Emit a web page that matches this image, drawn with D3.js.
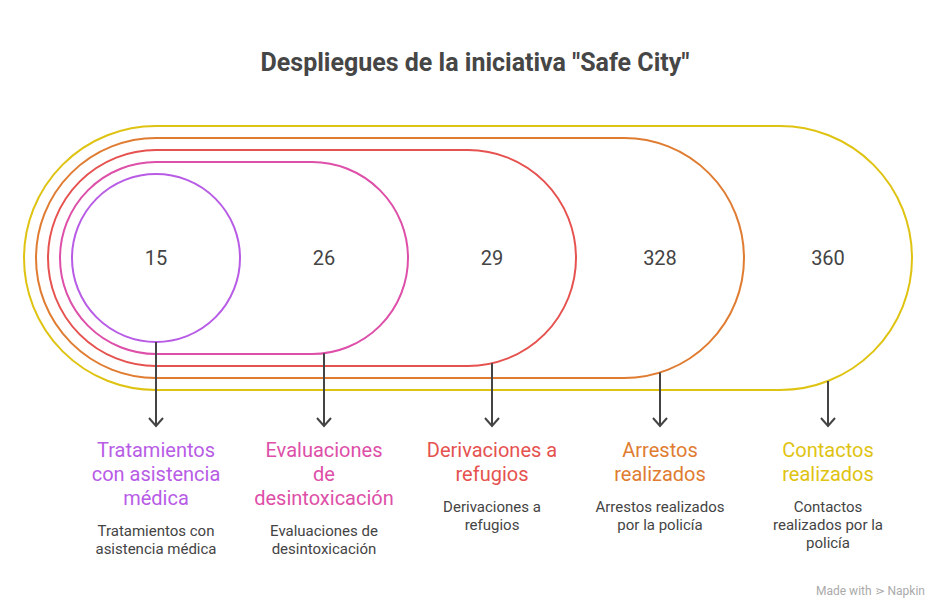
<!DOCTYPE html>
<html>
<head>
<meta charset="utf-8" />
<title>Safe City</title>
<script src="https://d3js.org/d3.v7.min.js"></script>
<style>
  body { margin: 0; background: #fff; }
  text { font-family: Roboto, "Noto Sans", sans-serif; }
</style>
</head>
<body>
<script>
var categories = ["Tratamientos con asistencia médica", "Evaluaciones de desintoxicación",
                  "Derivaciones a refugios", "Arrestos realizados", "Contactos realizados"];
var values = [15, 26, 29, 328, 360];
var titleLines = [
  ["Tratamientos", "con asistencia", "médica"],
  ["Evaluaciones", "de", "desintoxicación"],
  ["Derivaciones a", "refugios"],
  ["Arrestos", "realizados"],
  ["Contactos", "realizados"]
];
var descLines = [
  ["Tratamientos con", "asistencia médica"],
  ["Evaluaciones de", "desintoxicación"],
  ["Derivaciones a", "refugios"],
  ["Arrestos realizados", "por la policía"],
  ["Contactos", "realizados por la", "policía"]
];
var colors = ["#b85ce6", "#dd4fa8", "#e5524f", "#e07c31", "#dfc312"];

var W = 937, H = 606, cy = 258, arrowEnd = 426;

var svg = d3.select("body").append("svg")
  .attr("width", W).attr("height", H);

svg.append("text")
  .attr("x", 475).attr("y", 62)
  .attr("text-anchor", "middle").attr("dominant-baseline", "central")
  .attr("font-size", 25).attr("font-weight", 700).attr("fill", "#464646")
  .text('Despliegues de la iniciativa "Safe City"');

var idx = d3.range(categories.length);
var x = d3.scalePoint().domain(idx).range([156, 828]);
var r = d3.scaleLinear().domain([0, 4]).range([84, 132]);
var half = x.step() / 2;

var data = idx.map(function(i){
  return { i: i, cat: categories[i], v: values[i], c: colors[i], t: titleLines[i], d: descLines[i] };
});

// pills, outermost first
svg.append("g").selectAll("rect")
  .data(data.slice().reverse())
  .enter().append("rect")
  .attr("x", function(d){ return x(0) - r(d.i); })
  .attr("y", function(d){ return cy - r(d.i); })
  .attr("width", function(d){ return x(d.i) + half - (x(0) - r(d.i)); })
  .attr("height", function(d){ return 2 * r(d.i); })
  .attr("rx", function(d){ return r(d.i); })
  .attr("fill", "none")
  .attr("stroke", function(d){ return d.c; })
  .attr("stroke-width", 2);

svg.append("g").selectAll("text")
  .data(data).enter().append("text")
  .attr("x", function(d){ return x(d.i); })
  .attr("y", cy)
  .attr("text-anchor", "middle").attr("dominant-baseline", "central")
  .attr("font-size", 20).attr("fill", "#444")
  .text(function(d){ return d.v; });

// arrows from bottom of each pill
function bottomY(d) {
  var rad = r(d.i), capC = x(d.i) + half - rad, dx = Math.max(0, x(d.i) - capC);
  return cy + Math.sqrt(rad * rad - dx * dx);
}
var arrows = svg.append("g").attr("stroke", "#444").attr("stroke-width", 2).attr("fill", "none");
arrows.selectAll("line").data(data).enter().append("line")
  .attr("x1", function(d){ return x(d.i); })
  .attr("x2", function(d){ return x(d.i); })
  .attr("y1", bottomY)
  .attr("y2", arrowEnd);
arrows.selectAll("path").data(data).enter().append("path")
  .attr("d", function(d){
    var px = x(d.i);
    return "M" + (px - 7) + "," + (arrowEnd - 8) + "L" + px + "," + arrowEnd + "L" + (px + 7) + "," + (arrowEnd - 8);
  });

// labels
var lab = svg.append("g").selectAll("g").data(data).enter().append("g");
lab.each(function(d){
  var g = d3.select(this), px = x(d.i);
  d.t.forEach(function(s, k){
    g.append("text").attr("x", px).attr("y", 450 + k * 24)
      .attr("text-anchor", "middle").attr("dominant-baseline", "central")
      .attr("font-size", 20).attr("fill", d.c).text(s);
  });
  var y0 = 450 + (d.t.length - 1) * 24 + 33;
  d.d.forEach(function(s, k){
    g.append("text").attr("x", px).attr("y", y0 + k * 18)
      .attr("text-anchor", "middle").attr("dominant-baseline", "central")
      .attr("font-size", 15).attr("fill", "#444").text(s);
  });
});

svg.append("text")
  .attr("x", 925).attr("y", 591)
  .attr("text-anchor", "end").attr("dominant-baseline", "central")
  .attr("font-size", 12).attr("fill", "#aaa")
  .text("Made with ⋗ Napkin");
</script>
</body>
</html>
